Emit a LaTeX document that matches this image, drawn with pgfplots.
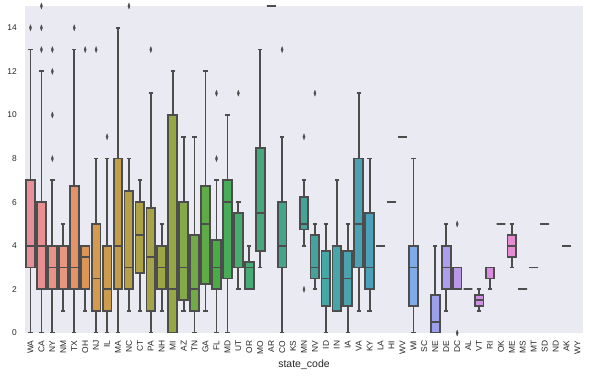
\documentclass[border=0pt]{standalone}
\usepackage[rgb]{xcolor}
\usepackage{pgfplots}
\pgfplotsset{compat=1.18}
\usepackage{fontspec}
\setmainfont{Liberation Sans}
\definecolor{bg}{RGB}{234,234,242}
\definecolor{eg}{RGB}{77,77,77}
\definecolor{tg}{RGB}{38,38,38}
\definecolor{c0}{RGB}{232,143,155}
\definecolor{c1}{RGB}{232,144,145}
\definecolor{c2}{RGB}{232,147,136}
\definecolor{c3}{RGB}{231,151,126}
\definecolor{c4}{RGB}{228,147,104}
\definecolor{c5}{RGB}{219,151,88}
\definecolor{c6}{RGB}{211,154,80}
\definecolor{c7}{RGB}{204,156,76}
\definecolor{c8}{RGB}{194,158,74}
\definecolor{c9}{RGB}{184,160,72}
\definecolor{c10}{RGB}{175,162,70}
\definecolor{c11}{RGB}{166,164,70}
\definecolor{c12}{RGB}{158,166,68}
\definecolor{c13}{RGB}{150,168,68}
\definecolor{c14}{Hsb}{81.7,0.575,0.660}
\definecolor{c15}{Hsb}{93.9,0.578,0.665}
\definecolor{c16}{Hsb}{106.2,0.582,0.670}
\definecolor{c17}{Hsb}{118.4,0.585,0.675}
\definecolor{c18}{Hsb}{130.6,0.589,0.680}
\definecolor{c19}{Hsb}{142.9,0.592,0.680}
\definecolor{c20}{Hsb}{148.6,0.589,0.671}
\definecolor{c21}{Hsb}{153.5,0.584,0.662}
\definecolor{c22}{Hsb}{158.3,0.579,0.653}
\definecolor{c23}{Hsb}{163.2,0.575,0.644}
\definecolor{c24}{Hsb}{168.0,0.570,0.635}
\definecolor{c25}{Hsb}{172.9,0.565,0.630}
\definecolor{c26}{Hsb}{176.9,0.566,0.635}
\definecolor{c27}{Hsb}{180.1,0.571,0.650}
\definecolor{c28}{Hsb}{183.4,0.577,0.667}
\definecolor{c29}{Hsb}{186.6,0.582,0.686}
\definecolor{c30}{Hsb}{189.8,0.588,0.705}
\definecolor{c31}{Hsb}{193.1,0.593,0.724}
\definecolor{c32}{RGB}{86,168,210}
\definecolor{c33}{RGB}{100,170,220}
\definecolor{c34}{RGB}{114,171,226}
\definecolor{c35}{RGB}{127,172,230}
\definecolor{c36}{RGB}{142,165,233}
\definecolor{c37}{RGB}{156,159,235}
\definecolor{c38}{RGB}{172,158,235}
\definecolor{c39}{RGB}{185,152,233}
\definecolor{c40}{RGB}{197,148,231}
\definecolor{c41}{RGB}{208,145,228}
\definecolor{c42}{RGB}{221,140,225}
\definecolor{c43}{RGB}{226,140,218}
\definecolor{c44}{RGB}{229,140,210}
\definecolor{c45}{RGB}{230,140,200}
\definecolor{c46}{RGB}{231,141,192}
\definecolor{c47}{RGB}{231,141,183}
\definecolor{c48}{RGB}{232,142,175}
\definecolor{c49}{RGB}{232,142,168}
\definecolor{c50}{RGB}{232,143,161}
\usepgfplotslibrary{statistics}
\pgfplotsset{
  bx/.style={boxplot prepared={box extend=0.8, whisker extend=0.4, draw direction=y,
      every box/.style={line width=1.8pt}, every whisker/.style={line width=1.8pt},
      every median/.style={line width=1.8pt}},
    draw=eg, line width=1.8pt,
    mark=diamond*, mark size=3pt, mark options={fill=eg, draw=eg, solid, line width=0.3pt, xscale=0.5}},
}
\newcommand{\bp}[8]{% pos, color, lw, q1, med, q3, uw, outliers
  \addplot[bx, fill=#2, boxplot prepared={draw position=#1, lower whisker=#3, lower quartile=#4, median=#5, upper quartile=#6, upper whisker=#7}] coordinates {#8};}
\begin{document}
\begin{tikzpicture}
\begin{axis}[name=ax, at={(0,0)}, anchor=south west,
  width=558pt, height=327pt, scale only axis,
  xmin=-0.5, xmax=50.5, ymin=0, ymax=15,
  axis background/.style={fill=bg}, axis line style={draw=none},
  major tick length=0pt,
  ytick={0,2,4,6,8,10,12,14},
  xtick={0,...,50},
  xticklabels={WA,CA,NY,NM,TX,OH,NJ,IL,MA,NC,CT,PA,NH,MI,AZ,TN,GA,FL,MD,UT,OR,MO,AR,CO,KS,MN,NV,ID,IN,IA,VA,KY,LA,HI,WV,WI,SC,NE,DE,DC,AL,VT,RI,OK,ME,MS,MT,SD,ND,AK,WY},
  /pgf/number format/assume math mode=true,
  tick label style={font=\fontsize{8.4}{10}\selectfont, text=tg},
  xticklabel style={rotate=90, anchor=east, inner sep=0pt},
  yticklabel style={inner sep=0pt},
  xticklabel shift=7.5pt, yticklabel shift=8pt,
  xlabel={state\_code}, xlabel style={font=\fontsize{10.5}{12}\selectfont, text=tg, at={(0.5,0)}, anchor=center, yshift=-32pt},
  clip=true,
]
\bp{0}{c0}{0}{3}{4}{7}{13}{(0,14)}
\bp{1}{c1}{0}{2}{4}{6}{12}{(1,13) (1,14) (1,15)}
\bp{2}{c2}{0}{2}{3}{4}{7}{(2,8) (2,10) (2,12) (2,13)}
\bp{3}{c3}{1}{2}{3}{4}{5}{}
\bp{4}{c4}{0}{2}{3}{6.75}{13}{(4,14)}
\bp{5}{c5}{1}{2}{3.5}{4}{4}{(5,13)}
\bp{6}{c6}{0}{1}{2.5}{5}{8}{(6,13)}
\bp{7}{c7}{0}{1}{2}{4}{8}{(7,9)}
\bp{8}{c8}{0}{2}{4}{8}{14}{}
\bp{9}{c9}{1}{2}{3}{6.5}{8}{(9,15)}
\bp{10}{c10}{1}{2.75}{4.5}{6}{7}{}
\bp{11}{c11}{0}{1}{3.5}{5.75}{11}{(11,13)}
\bp{12}{c12}{1}{2}{3}{4}{5}{}
\bp{13}{c13}{0}{0}{2}{10}{12}{}
\bp{14}{c14}{1}{1.5}{3}{6}{9}{}
\bp{15}{c15}{0}{1}{2}{4.5}{9}{}
\bp{16}{c16}{1}{2.25}{5}{6.75}{12}{}
\bp{17}{c17}{0}{2}{3}{4.25}{7}{(17,8) (17,11)}
\bp{18}{c18}{0}{2.5}{6}{7}{10}{}
\bp{19}{c19}{2}{3}{3}{5.5}{6}{(19,11)}
\bp{20}{c20}{2}{2}{3}{3.25}{4}{}
\bp{21}{c21}{3}{3.75}{5.5}{8.5}{13}{}
\bp{22}{c22}{15}{15}{15}{15}{15}{}
\bp{23}{c23}{0}{3}{4}{6}{9}{(23,13)}
\bp{25}{c25}{4}{4.75}{5}{6.25}{7}{(25,2) (25,9)}
\bp{26}{c26}{2}{2.5}{3}{4.5}{5}{(26,11)}
\bp{27}{c27}{0}{1.25}{2.5}{3.75}{5}{}
\bp{28}{c28}{1}{1}{1}{4}{7}{}
\bp{29}{c29}{0}{1.25}{2.5}{3.75}{5}{}
\bp{30}{c30}{1}{3}{5}{8}{11}{}
\bp{31}{c31}{1}{2}{3}{5.5}{8}{}
\bp{32}{c32}{4}{4}{4}{4}{4}{}
\bp{33}{c33}{6}{6}{6}{6}{6}{}
\bp{34}{c34}{9}{9}{9}{9}{9}{}
\bp{35}{c35}{0}{1.25}{3}{4}{8}{}
\bp{37}{c37}{0}{0}{0.5}{1.75}{4}{}
\bp{38}{c38}{1}{2}{3}{4}{5}{}
\bp{39}{c39}{2}{2}{2}{3}{3}{(39,5) (39,0)}
\bp{40}{c40}{2}{2}{2}{2}{2}{}
\bp{41}{c41}{1}{1.25}{1.5}{1.75}{2}{}
\bp{42}{c42}{2}{2.5}{3}{3}{3}{}
\bp{43}{c43}{5}{5}{5}{5}{5}{}
\bp{44}{c44}{3}{3.5}{4}{4.5}{5}{}
\bp{45}{c45}{2}{2}{2}{2}{2}{}
\bp{46}{c46}{3}{3}{3}{3}{3}{}
\bp{47}{c47}{5}{5}{5}{5}{5}{}
\bp{49}{c49}{4}{4}{4}{4}{4}{}
\end{axis}
\pgfresetboundingbox
\path[use as bounding box] ([xshift=-25pt,yshift=-44pt]ax.south west) rectangle ([xshift=7pt,yshift=6pt]ax.north east);
\end{tikzpicture}
\end{document}
